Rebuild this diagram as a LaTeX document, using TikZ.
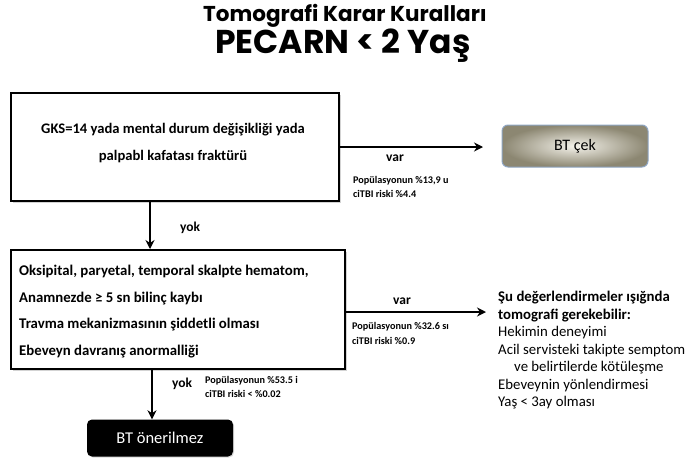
\documentclass[tikz,border=0pt]{standalone}
\usepackage{fontspec}
\setmainfont{Carlito}
\newfontfamily\titlefont{Poppins}
\usetikzlibrary{arrows.meta,shadows}
\definecolor{btouter}{HTML}{8C8772}
\definecolor{btinner}{HTML}{F4F2EA}
\definecolor{btborder}{HTML}{8FA6C4}
\tikzset{
  mainbox/.style={draw=black,line width=2.2pt,fill=white,
    drop shadow={shadow xshift=1.5pt,shadow yshift=-1.5pt,opacity=0.35}},
  arr/.style={-{Stealth[length=9pt,width=9pt]},line width=2pt},
  small/.style={font=\fontsize{10.2}{14.2}\selectfont\bfseries,align=left,anchor=west,inner sep=0pt},
  lbl/.style={font=\fontsize{13.5}{15}\selectfont\bfseries,inner sep=0pt},
}
\begin{document}
\begin{tikzpicture}[x=1pt,y=-1pt]
\useasboundingbox (0,0) rectangle (687,466);
% titles
\node (t1) at (345,16) {\titlefont\bfseries\fontsize{21.5}{24}\selectfont Tomografi Karar Kuralları};
\node (t2) at (343,46) {\titlefont\bfseries\fontsize{33}{36}\selectfont PECARN < 2 Yaş};
% box 1
\node[mainbox,minimum width=328pt,minimum height=108pt,anchor=north west,inner sep=0pt] (b1) at (10,92) {};
\node[font=\fontsize{14.6}{27}\selectfont\bfseries,align=center] (b1t) at (173,143)
  {GKS=14 yada mental durum değişikliği yada\\palpabl kafatası fraktürü};
% BT cek
\node[draw=btborder,line width=1pt,rounded corners=6pt,inner color=btinner,outer color=btouter,
  minimum width=146pt,minimum height=42pt,font=\fontsize{16}{18}\selectfont] (btcek) at (575,146) {BT çek};
\coordinate (a1s) at (b1.east |- 0,147);
\coordinate (a1e) at (483,147);
\draw[arr] (a1s) -- (a1e);
\node[lbl] (var1) at (395,158) {var};
\node[small] (pop1) at (353,187) {Popülasyonun \%13,9 u\\ciTBI riski \%4.4};
% box 2
\node[mainbox,minimum width=334pt,minimum height=119pt,anchor=north west,inner sep=0pt] (b2) at (10,249) {};
\node[font=\fontsize{14.8}{26.7}\selectfont\bfseries,align=left,anchor=north west,inner sep=0pt] (b2t) at (19,265)
  {Oksipital, paryetal, temporal skalpte hematom,\\Anamnezde ≥ 5 sn bilinç kaybı\\Travma mekanizmasının şiddetli olması\\Ebeveyn davranış anormalliği};
% arrow b1 -> b2
\coordinate (d1s) at (150,200);
\draw[arr] (d1s) -- (d1s |- b2.north);
\node[lbl] (yok1) at (190,228) {yok};
% arrow b2 -> right text
\coordinate (a2s) at (b2.east |- 0,312);
\coordinate (a2e) at (486,312);
\draw[arr] (a2s) -- (a2e);
\node[lbl] (var2) at (402,301) {var};
\node[small] (pop2) at (352,333.5) {Popülasyonun \%32.6 sı\\ciTBI riski \%0.9};
% right text
\node[anchor=north west,align=left,inner sep=0pt,font=\fontsize{14.8}{17.5}\selectfont] (rt) at (498,291)
  {\textbf{Şu değerlendirmeler ışığnda}\\\textbf{tomografi gerekebilir:}\\Hekimin deneyimi\\Acil servisteki takipte semptom\\\hspace*{16pt}ve belirtilerde kötüleşme\\Ebeveynin yönlendirmesi\\Yaş < 3ay olması};
% BT onerilmez
\node[fill=black,text=white,rounded corners=5pt,minimum width=146pt,minimum height=37pt,
  font=\fontsize{16.5}{18}\selectfont,drop shadow={shadow xshift=1pt,shadow yshift=-1pt,opacity=0.3}] (bton) at (160,438) {BT önerilmez};
\coordinate (d2s) at (152,368);
\draw[arr] (d2s) -- (d2s |- bton.north);
\node[lbl] (yok2) at (182,384) {yok};
\node[small] (pop3) at (205,387) {Popülasyonun \%53.5 i\\ciTBI riski < \%0.02};
\end{tikzpicture}
\end{document}
